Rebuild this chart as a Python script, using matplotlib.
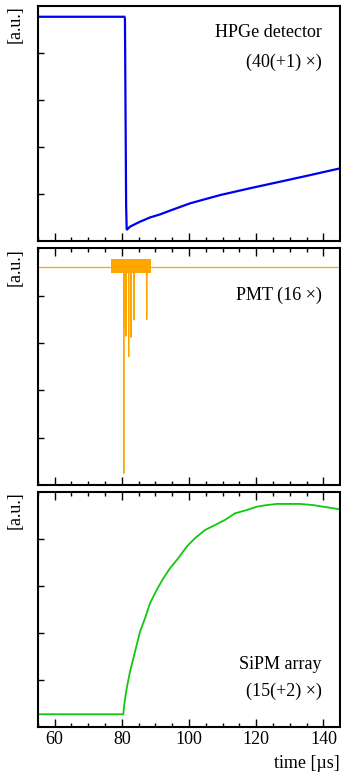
import matplotlib
matplotlib.use("Agg")
import matplotlib.pyplot as plt
from matplotlib.ticker import MultipleLocator, NullFormatter

plt.rcParams['font.family'] = ['Liberation Serif', 'DejaVu Serif']
plt.rcParams['mathtext.fontset'] = 'stix'

# ---- data ----
hpge_t = [55, 80.8, 80.95, 81.1, 81.3, 81.47, 82.45, 85.42, 88.4, 91.37, 94.34,
          100.3, 109.2, 118.1, 127.1, 136, 145]
hpge_y = [0.953, 0.953, 0.945, 0.60, 0.15, 0.047, 0.061, 0.082, 0.100, 0.113, 0.129,
          0.160, 0.195, 0.224, 0.252, 0.280, 0.309]

pmt_baseline = 0.921
pmt_band_t = [76.7, 88.8]
pmt_band_lo = 0.895
pmt_band_hi = 0.955
pmt_spike_t = [80.6, 81.0, 81.26, 82.06, 82.75, 83.64, 87.42]
pmt_spike_y = [0.049, 0.66, 0.629, 0.542, 0.624, 0.697, 0.700]

sipm_t = [55, 80.46, 80.7, 81.47, 82.45, 83.94, 85.42, 86.91, 88.4, 90.39, 92.35,
          94.34, 96.81, 99.31, 101.78, 104.76, 107.73, 110.7, 113.68, 117.16,
          120.13, 123.1, 126.08, 129.05, 133.0, 136.96, 139.94, 144.9]
sipm_y = [0.053, 0.053, 0.09, 0.163, 0.234, 0.319, 0.404, 0.461, 0.525, 0.582, 0.631,
          0.674, 0.717, 0.766, 0.802, 0.837, 0.858, 0.880, 0.908, 0.922,
          0.936, 0.943, 0.948, 0.948, 0.948, 0.943, 0.936, 0.925]

labels = [("HPGe detector", "(40(+1) \u00d7)"), ("PMT (16 \u00d7)", None),
          ("SiPM array", "(15(+2) \u00d7)")]

blue = '#0000f0'
orange = '#ffa500'
green = '#10c810'

W, H = 341, 774
fig = plt.figure(figsize=(W / 100, H / 100), dpi=100)

left = 37.7 / W
width = (340.3 - 37.7) / W
panels_px = [(5.7, 241.0), (248.3, 485.0), (491.7, 726.7)]
axes = []
for top, bot in panels_px:
    ax = fig.add_axes([left, 1 - bot / H, width, (bot - top) / H])
    axes.append(ax)

fs = 13
for i, ax in enumerate(axes):
    ax.set_xlim(55, 145)
    ax.set_ylim(0, 1)
    ax.xaxis.set_major_locator(MultipleLocator(20))
    ax.xaxis.set_minor_locator(MultipleLocator(5))
    ax.set_yticks([0.2, 0.4, 0.6, 0.8])
    ax.yaxis.set_major_formatter(NullFormatter())
    ax.tick_params(axis='x', which='both', direction='in', top=(i > 0), bottom=True,
                   labelbottom=(i == 2), labelsize=fs, pad=3)
    ax.tick_params(axis='x', which='major', length=5.5, width=1.0)
    ax.tick_params(axis='x', which='minor', length=3, width=1.0)
    ax.tick_params(axis='y', which='major', direction='in', left=True, right=False,
                   length=4.5, width=1.0)
    for s in ax.spines.values():
        s.set_linewidth(1.5)
    ax.text(-0.075, 1.0, "[a.u.]", rotation=90, ha='center', va='top',
            transform=ax.transAxes, fontsize=fs)

axes[0].plot(hpge_t, hpge_y, color=blue, lw=1.6, solid_joinstyle='miter')

# PMT
ax = axes[1]
ax.axhline(pmt_baseline, color=orange, lw=0.9)
ax.fill_between(pmt_band_t, [pmt_band_lo] * 2, [pmt_band_hi] * 2, color=orange, lw=0)
for t, y in zip(pmt_spike_t, pmt_spike_y):
    ax.plot([t - 0.06, t, t + 0.06], [pmt_baseline, y, pmt_baseline], color=orange, lw=0.9)

axes[2].plot(sipm_t, sipm_y, color=green, lw=1.3)

# labels
axes[0].text(0.939, 0.884, labels[0][0], ha='right', va='center',
             transform=axes[0].transAxes, fontsize=fs)
axes[0].text(0.939, 0.758, labels[0][1], ha='right', va='center',
             transform=axes[0].transAxes, fontsize=fs)
axes[1].text(0.939, 0.803, labels[1][0], ha='right', va='center',
             transform=axes[1].transAxes, fontsize=fs)
axes[2].text(0.939, 0.263, labels[2][0], ha='right', va='center',
             transform=axes[2].transAxes, fontsize=fs)
axes[2].text(0.939, 0.149, labels[2][1], ha='right', va='center',
             transform=axes[2].transAxes, fontsize=fs)

fig.text(340 / W, 1 - 763 / H, "time [\u00b5s]", ha='right', va='center', fontsize=fs)

fig.savefig("out.png", dpi=100)
